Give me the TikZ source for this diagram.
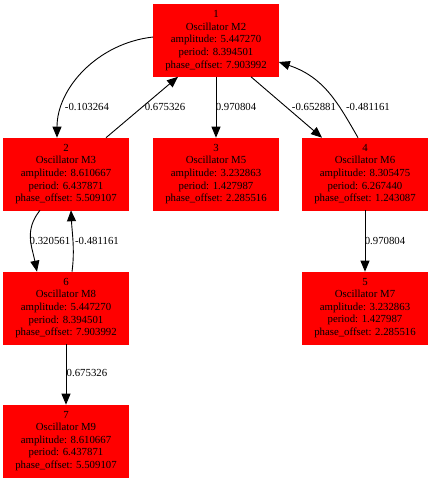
\documentclass[tikz,border=0pt]{standalone}
\usepackage{fontspec}
\setmainfont{Liberation Serif}
\usetikzlibrary{arrows.meta}
\begin{document}
\begin{tikzpicture}[x=1pt,y=-1pt,
  osc/.style={rectangle, fill=red, draw=red, line width=0.6pt,
    minimum width=125pt, minimum height=72pt, inner sep=0pt,
    align=center, font=\fontsize{10.8}{12.6}\selectfont},
  edge/.style={draw=black, line width=0.9pt,
    -{Triangle[length=11pt,width=9pt]}},
  wlabel/.style={font=\fontsize{10.8}{12.6}\selectfont, inner sep=0pt}]
\useasboundingbox (0,0) rectangle (432,483);

% oscillator nodes
\node[osc] (n1) at (216,40.5) {1\\Oscillator M2\\amplitude: 5.447270\\period: 8.394501\\phase\_offset: 7.903992};
\node[osc] (n2) at (66,174) {2\\Oscillator M3\\amplitude: 8.610667\\period: 6.437871\\phase\_offset: 5.509107};
\node[osc] (n3) at (216,174) {3\\Oscillator M5\\amplitude: 3.232863\\period: 1.427987\\phase\_offset: 2.285516};
\node[osc] (n4) at (365,174) {4\\Oscillator M6\\amplitude: 8.305475\\period: 6.267440\\phase\_offset: 1.243087};
\node[osc] (n6) at (66,308) {6\\Oscillator M8\\amplitude: 5.447270\\period: 8.394501\\phase\_offset: 7.903992};
\node[osc] (n5) at (365,308) {5\\Oscillator M7\\amplitude: 3.232863\\period: 1.427987\\phase\_offset: 2.285516};
\node[osc] (n7) at (66,441) {7\\Oscillator M9\\amplitude: 8.610667\\period: 6.437871\\phase\_offset: 5.509107};

% couplings
\draw[edge] ([yshift=3.5pt]n1.west) .. controls +(-55,6) and +(0,-50) .. ([xshift=-9pt]n2.north);
\draw[edge] ([xshift=40pt]n2.north) -- ([xshift=-38pt]n1.south);
\draw[edge] (n1.south) -- (n3.north);
\draw[edge] ([xshift=35pt]n1.south) -- ([xshift=-43pt]n4.north);
\draw[edge] ([xshift=-7pt]n4.north) .. controls +(-20,-35) and +(45,15) .. ([yshift=-21.5pt]n1.east);
\draw[edge] ([xshift=-26pt]n2.south) .. controls +(-16,20) and +(-5,-25) .. ([xshift=-29pt]n6.north);
\draw[edge] ([xshift=6pt]n6.north) .. controls +(3,-22) and +(1,22) .. ([xshift=5pt]n2.south);
\draw[edge] (n4.south) -- (n5.north);
\draw[edge] (n6.south) -- (n7.north);

% coupling weights
\node[wlabel] (w12) at (87,107) {-0.103264};
\node[wlabel] (w21) at (165,107) {0.675326};
\node[wlabel] (w13) at (236,107) {0.970804};
\node[wlabel] (w14) at (314,107) {-0.652881};
\node[wlabel] (w41) at (368,107) {-0.481161};
\node[wlabel] (w26) at (50,241) {0.320561};
\node[wlabel] (w62) at (97,241) {-0.481161};
\node[wlabel] (w45) at (385,241) {0.970804};
\node[wlabel] (w67) at (87,373) {0.675326};
\end{tikzpicture}
\end{document}
